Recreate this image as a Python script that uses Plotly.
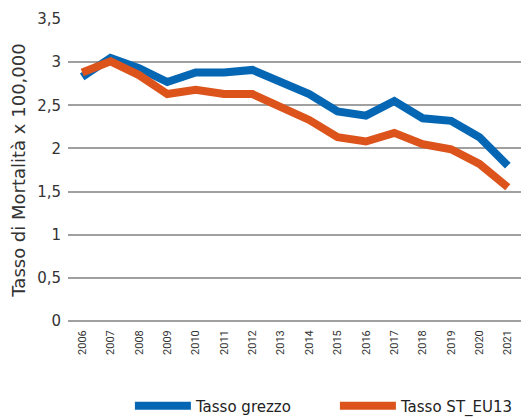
import plotly.graph_objects as go

years = [str(y) for y in range(2006, 2022)]
tasso_grezzo = [2.83, 3.05, 2.93, 2.77, 2.88, 2.88, 2.91, 2.78, 2.63, 2.43, 2.38, 2.55, 2.35, 2.32, 2.13, 1.80]
tasso_st_eu13 = [2.88, 3.01, 2.85, 2.63, 2.68, 2.63, 2.63, 2.49, 2.33, 2.13, 2.08, 2.18, 2.05, 1.99, 1.82, 1.55]
y_ticks = [0, 0.5, 1, 1.5, 2, 2.5, 3, 3.5]

fig = go.Figure()
fig.add_trace(go.Scatter(x=years, y=tasso_grezzo, mode="lines", name="Tasso grezzo",
                         line=dict(color="#0567B4", width=8)))
fig.add_trace(go.Scatter(x=years, y=tasso_st_eu13, mode="lines", name="Tasso ST_EU13",
                         line=dict(color="#DC541C", width=8)))

# page body has an 8px default margin, so the figure is offset by 8px
fig.update_layout(
    width=521, height=410,
    margin=dict(l=60, r=7, t=11, b=97, autoexpand=False),
    paper_bgcolor="white", plot_bgcolor="white",
    separators=",.",
    font=dict(family="DejaVu Sans", color="#333333"),
    showlegend=True,
    legend=dict(orientation="h", x=0.234, xanchor="left", xref="container",
                y=12 / 410, yanchor="middle", yref="container",
                font=dict(size=15, color="#222222"), itemwidth=56,
                entrywidth=134, entrywidthmode="pixels"),
    xaxis=dict(type="category", range=[-0.5, 15.5], showgrid=False, showline=False, ticks="",
               tickangle=-90, tickfont=dict(family="Roboto", size=11, color="#333333"),
               ticklabelstandoff=6, automargin=False),
    yaxis=dict(range=[0, 3.5], tickvals=y_ticks, showgrid=True, gridcolor="#A0A0A0", gridwidth=1.5,
               zeroline=True, zerolinecolor="#A0A0A0", zerolinewidth=1.5,
               showline=False, ticks="", tickfont=dict(size=15, color="#333333"),
               ticklabelstandoff=6, automargin=False,
               title=dict(text="Tasso di Mortalità x 100,000", font=dict(size=18, color="#333333"), standoff=10)),
)
fig.write_html("out.html")
